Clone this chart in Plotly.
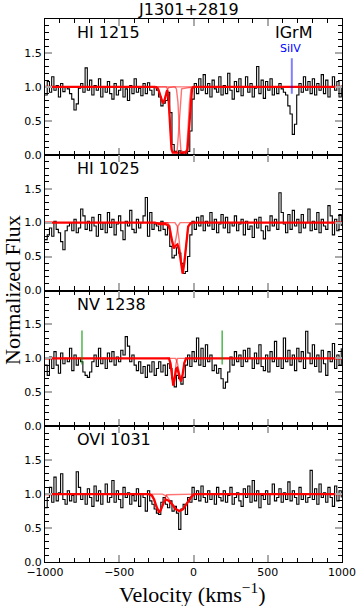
import numpy as np
import plotly.graph_objects as go
from plotly.subplots import make_subplots

# ---------------- data ----------------
VEL_START = -1000
VEL_STEP = 15

panel_labels = ["HI 1215", "HI 1025", "NV 1238", "OVI 1031"]

flux_hi1215 = [
    0.88, 1.08, 0.92, 1.15, 0.95, 1.02, 0.85, 1.05, 0.93, 1.00,
    0.97, 0.90, 0.82, 0.66, 0.75, 0.98, 1.05, 0.92, 1.28, 0.95,
    1.10, 0.88, 1.02, 0.95, 1.12, 0.85, 1.00, 0.92, 1.08, 0.90,
    0.82, 1.05, 0.88, 0.95, 1.10, 0.85, 0.97, 0.80, 1.02, 0.90,
    1.12, 0.92, 0.98, 0.87, 1.05, 0.90, 1.06, 0.95, 0.88, 1.00,
    0.95, 0.85, 0.72, 0.76, 0.80, 0.92, 0.62, 0.15, 0.05, 0.03,
    0.06, 0.02, 0.04, 0.01, 0.05, 0.35, 0.82, 1.05, 0.90, 1.12,
    0.95, 1.18, 0.90, 1.05, 0.85, 1.10, 0.97, 0.92, 1.15, 0.88,
    1.02, 0.90, 1.20, 0.95, 0.82, 1.08, 0.93, 1.12, 0.87, 1.00,
    1.15, 0.92, 1.05, 0.85, 0.98, 1.30, 0.90, 1.10, 0.83, 1.08,
    0.95, 1.12, 0.88, 1.00, 0.90, 1.05, 0.97, 0.92, 0.88, 0.72,
    0.60, 0.30, 0.45, 0.88, 1.05, 0.92, 1.15, 0.95, 1.08, 0.90,
    1.12, 0.88, 1.05, 0.95, 1.18, 0.90, 1.10, 0.85, 1.00, 1.15,
    0.95, 1.08, 0.85, 1.02,
]
flux_hi1025 = [
    0.75, 0.82, 0.92, 0.80, 1.02, 0.90, 0.85, 0.72, 0.60, 0.88,
    0.95, 1.00, 0.88, 1.05, 0.85, 0.92, 1.20, 1.10, 0.90, 1.02,
    0.88, 1.08, 0.95, 0.80, 1.12, 0.90, 1.00, 0.85, 1.15, 0.93,
    1.05, 0.82, 0.98, 1.10, 0.88, 0.75, 1.02, 0.95, 1.18, 0.90,
    0.85, 1.05, 0.92, 1.00, 1.10, 1.37, 0.80, 1.15, 0.90, 0.98,
    0.95, 0.88, 1.02, 0.90, 0.82, 0.95, 0.65, 0.48, 0.52, 0.63,
    0.55, 0.40, 0.25, 0.28, 0.50, 0.82, 1.02, 0.90, 1.08, 0.95,
    1.10, 0.88, 1.02, 0.95, 1.15, 0.90, 1.05, 0.85, 0.98, 1.12,
    0.92, 1.08, 0.85, 1.00, 0.95, 1.10, 0.88, 0.98, 1.05, 0.82,
    1.02, 0.90, 0.95, 0.78, 1.05, 0.92, 1.08, 0.88, 0.76, 0.95,
    0.88, 1.10, 0.95, 1.05, 0.90, 1.44, 1.15, 0.98, 0.85, 1.12,
    0.90, 1.18, 0.95, 1.05, 0.85, 1.12, 0.92, 1.00, 1.20, 0.88,
    1.02, 0.90, 1.15, 0.85, 1.05, 0.95, 0.90, 1.25, 1.10, 0.82,
    1.05, 0.88, 1.12, 0.95,
]
flux_nv1238 = [
    0.90, 0.75, 1.02, 0.85, 1.10, 0.90, 0.78, 1.08, 0.92, 1.00,
    0.95, 1.15, 0.82, 1.05, 0.90, 1.00, 0.95, 0.80, 0.75, 0.72,
    0.80, 0.95, 1.05, 0.88, 1.15, 0.92, 1.00, 0.85, 1.08, 0.95,
    1.10, 0.90, 1.02, 0.95, 1.12, 1.05, 1.32, 1.18, 0.95, 1.05,
    0.90, 0.82, 0.95, 0.78, 0.88, 0.72, 0.90, 0.80, 0.95, 0.75,
    0.85, 0.95, 0.80, 0.90, 0.75, 0.92, 0.85, 0.70, 0.58, 0.75,
    0.70, 0.62, 0.72, 0.90, 1.05, 0.88, 1.10, 0.95, 1.30, 0.90,
    1.15, 0.88, 1.20, 0.95, 1.05, 0.82, 0.90, 0.78, 0.85, 0.70,
    0.56, 0.65, 0.80, 1.02, 0.90, 1.10, 0.95, 1.05, 0.88, 1.12,
    0.95, 1.15, 1.00, 0.85, 1.08, 0.92, 1.20, 0.88, 0.82, 1.05,
    0.80, 1.10, 0.95, 1.25, 0.88, 1.00, 0.85, 1.30, 0.95, 1.12,
    0.90, 1.05, 0.82, 1.15, 0.95, 1.10, 0.85, 1.40, 1.08, 0.92,
    1.20, 0.88, 1.05, 0.80, 1.12, 0.92, 0.75, 1.10, 0.95, 1.22,
    0.85, 1.05, 0.90, 1.15,
]
flux_ovi1031 = [
    0.80, 0.95, 1.10, 0.88, 1.25, 0.90, 1.02, 1.30, 0.92, 0.85,
    1.05, 0.90, 0.98, 0.88, 1.33, 1.10, 0.92, 1.00, 0.85, 1.08,
    0.95, 0.82, 1.12, 0.90, 1.05, 0.85, 1.00, 1.15, 0.88, 0.95,
    1.20, 0.88, 1.05, 0.92, 0.80, 1.10, 0.95, 1.02, 0.85, 0.98,
    0.90, 1.08, 0.82, 1.00, 0.95, 0.75, 1.05, 0.90, 0.85, 0.78,
    0.72, 0.70, 0.88, 0.95, 0.85, 0.80, 0.90, 0.75, 0.82, 0.72,
    0.48, 0.78, 0.85, 0.70, 0.95, 0.88, 1.10, 0.92, 1.05, 0.90,
    1.12, 0.95, 0.88, 1.05, 0.92, 1.00, 0.85, 1.10, 0.95, 0.90,
    1.05, 0.88, 0.98, 1.10, 0.85, 0.95, 1.02, 0.90, 0.82, 1.08,
    0.95, 1.12, 0.88, 1.20, 0.90, 1.05, 0.80, 0.98, 0.92, 1.05,
    0.85, 1.00, 1.15, 0.90, 0.95, 1.08, 0.88, 1.02, 0.92, 1.18,
    0.90, 1.05, 0.95, 0.85, 1.10, 0.92, 1.00, 0.88, 0.95, 1.35,
    0.92, 1.08, 0.85, 1.15, 0.95, 1.02, 0.88, 1.10, 0.95, 0.82,
    1.12, 0.90, 1.05, 0.95,
]

# model fits: total profile and individual components (velocity, flux)
model_hi1215_v = [-1000, -260, -240, -228, -216, -206, -196, -186, -177, -168, -158, -148, -140, -100, -50, -40, -30, -20, -10, 0, 1000]
model_hi1215_f = [1, 1, 0.98, 0.9, 0.8, 0.76, 0.8, 0.9, 0.95, 0.82, 0.42, 0.08, 0.03, 0.03, 0.03, 0.08, 0.4, 0.78, 0.97, 1, 1]
comps_hi1215 = [
    ([-280, -245, -230, -218, -206, -194, -182, -167, -130, 0], [1, 0.99, 0.94, 0.82, 0.76, 0.82, 0.94, 0.99, 1, 1]),
    ([-280, -185, -175, -165, -155, -145, -127, -110, -100, -90, -80, 0], [1, 1, 0.97, 0.75, 0.35, 0.06, 0.03, 0.06, 0.35, 0.75, 0.97, 1]),
    ([-280, -125, -115, -105, -95, -85, -66, -47, -37, -27, -17, -7, 0], [1, 1, 0.97, 0.78, 0.38, 0.07, 0.03, 0.07, 0.38, 0.78, 0.97, 1, 1]),
]

model_hi1025_v = [-1000, -260, -230, -190, -170, -160, -147, -132, -120, -108, -97, -85, -73, -61, -49, -36, -20, -10, 1000]
model_hi1025_f = [1, 1, 0.98, 0.98, 0.96, 0.9, 0.75, 0.62, 0.66, 0.68, 0.6, 0.42, 0.25, 0.42, 0.72, 0.94, 0.99, 1, 1]
comps_hi1025 = [
    ([-280, -175, -160, -147, -132, -117, -104, -90, 0], [1, 1, 0.95, 0.78, 0.62, 0.78, 0.95, 1, 1]),
    ([-280, -125, -110, -97, -85, -73, -61, -49, -36, -20, 0], [1, 1, 0.95, 0.75, 0.45, 0.25, 0.45, 0.75, 0.95, 1, 1]),
]

model_nv1238_v = [-1000, -165, -155, -145, -136, -127, -117, -110, -100, -85, -74, -62, -50, 1000]
model_nv1238_f = [1, 1, 0.93, 0.72, 0.6, 0.7, 0.85, 0.86, 0.77, 0.66, 0.75, 0.93, 1, 1]
comps_nv1238 = [
    ([-185, -165, -155, -145, -136, -127, -117, -107, -45], [1, 1, 0.93, 0.72, 0.6, 0.72, 0.93, 1, 1]),
    ([-185, -120, -108, -96, -85, -74, -62, -50, -45], [1, 1, 0.93, 0.75, 0.66, 0.75, 0.93, 1, 1]),
]

model_ovi1031_v = [-1000, -300, -280, -265, -250, -240, -231, -222, -212, -200, -185, -165, -140, -120, -95, -70, -40, -15, 5, 1000]
model_ovi1031_f = [1, 1, 0.98, 0.92, 0.82, 0.76, 0.73, 0.76, 0.82, 0.88, 0.92, 0.9, 0.84, 0.78, 0.75, 0.78, 0.88, 0.96, 1, 1]
comps_ovi1031 = [
    ([-310, -290, -270, -250, -231, -212, -195, -180, 10], [1, 0.99, 0.93, 0.8, 0.73, 0.8, 0.93, 0.99, 1]),
    ([-310, -210, -180, -150, -120, -95, -70, -40, -10, 10], [1, 1, 0.97, 0.88, 0.78, 0.75, 0.78, 0.88, 0.97, 1]),
]

# line markers
siiv_v = [662, 662]
siiv_f = [0.9, 1.42]
nv_marks_v = [-751, 193]
nv_marks_f = [0.91, 1.41]

fluxes = [flux_hi1215, flux_hi1025, flux_nv1238, flux_ovi1031]
models = [(model_hi1215_v, model_hi1215_f), (model_hi1025_v, model_hi1025_f),
          (model_nv1238_v, model_nv1238_f), (model_ovi1031_v, model_ovi1031_f)]
comps = [comps_hi1215, comps_hi1025, comps_nv1238, comps_ovi1031]

x_ticks = [-1000, -500, 0, 500, 1000]
y_ticks = [0.0, 0.5, 1.0, 1.5]
y_ticktext = ["0.0", "0.5", "1.0", "1.5"]

# ---------------- figure ----------------
fig = make_subplots(rows=4, cols=1, shared_xaxes=True, vertical_spacing=0)

for i in range(4):
    r = i + 1
    fl = fluxes[i]
    vel = VEL_START + VEL_STEP * np.arange(len(fl))
    fig.add_trace(go.Scatter(x=vel, y=fl, mode="lines", line=dict(color="black", width=1.1, shape="hv"),
                             showlegend=False, hoverinfo="skip"), row=r, col=1)
    for cv, cf in comps[i]:
        fig.add_trace(go.Scatter(x=cv, y=cf, mode="lines", line=dict(color="rgba(255,0,0,0.55)", width=1.4),
                                 showlegend=False, hoverinfo="skip"), row=r, col=1)
    mv, mf = models[i]
    fig.add_trace(go.Scatter(x=mv, y=mf, mode="lines", line=dict(color="#ff0000", width=2.3),
                             showlegend=False, hoverinfo="skip"), row=r, col=1)

# SiIV marker (panel 1)
fig.add_trace(go.Scatter(x=siiv_v, y=siiv_f, mode="lines", line=dict(color="rgba(0,0,255,0.5)", width=2),
                         showlegend=False, hoverinfo="skip"), row=1, col=1)
# NV doublet markers (panel 3)
for v in nv_marks_v:
    fig.add_trace(go.Scatter(x=[v, v], y=nv_marks_f, mode="lines", line=dict(color="rgba(0,150,0,0.8)", width=1.3),
                             showlegend=False, hoverinfo="skip"), row=3, col=1)

for i in range(4):
    r = i + 1
    fig.update_xaxes(range=[-1000, 1000], tickvals=x_ticks, ticks="inside", ticklen=7, tickwidth=1.5,
                     tickcolor="#aaaaaa", showline=True, linecolor="black", linewidth=1.3, mirror="ticks",
                     showgrid=False, zeroline=False, automargin=False,
                     minor=dict(dtick=100, tick0=0, ticks="inside", ticklen=4, tickcolor="black", tickwidth=1),
                     showticklabels=(r == 4), tickfont=dict(family="DejaVu Sans", size=11, color="black"),
                     row=r, col=1)
    fig.update_yaxes(range=[0, 2.0], tickvals=y_ticks, ticktext=y_ticktext, ticks="inside", ticklen=7, tickwidth=1.5,
                     tickcolor="#aaaaaa", showline=True, linecolor="black", linewidth=1.3, mirror="ticks",
                     showgrid=False, zeroline=False, automargin=False,
                     minor=dict(dtick=0.1, tick0=0, ticks="inside", ticklen=4, tickcolor="black", tickwidth=1),
                     tickfont=dict(family="DejaVu Sans", size=11, color="black"),
                     row=r, col=1)

annotations = []
for i, lab in enumerate(panel_labels):
    suf = "" if i == 0 else str(i + 1)
    annotations.append(dict(x=-800, y=1.8, xref="x" + suf, yref="y" + suf, text=lab, showarrow=False,
                            xanchor="left", yanchor="middle", font=dict(family="DejaVu Sans", size=16, color="black")))
annotations.append(dict(x=676, y=1.8, xref="x", yref="y", text="IGrM", showarrow=False,
                        xanchor="center", yanchor="middle", font=dict(family="DejaVu Sans", size=16, color="black")))
annotations.append(dict(x=655, y=1.57, xref="x", yref="y", text="SiIV", showarrow=False,
                        xanchor="center", yanchor="middle", font=dict(family="DejaVu Sans", size=11, color="#0000ff")))
annotations.append(dict(x=0.4815, y=1.0175, xref="paper", yref="paper", text="J1301+2819", showarrow=False,
                        xanchor="center", yanchor="middle", font=dict(family="DejaVu Sans", size=16, color="black")))
annotations.append(dict(x=-0.108, y=0.501, xref="paper", yref="paper", text="Normalized Flux", showarrow=False,
                        textangle=-90, xanchor="center", yanchor="middle",
                        font=dict(family="Liberation Serif", size=22, color="black")))
annotations.append(dict(x=0.4966, y=-0.057, xref="paper", yref="paper", text="Velocity (kms<sup>\u22121</sup>)",
                        showarrow=False, xanchor="center", yanchor="middle",
                        font=dict(family="Liberation Serif", size=22, color="black")))

fig.update_layout(width=357, height=606, margin=dict(l=45, r=15, t=19, b=44, autoexpand=False),
                  paper_bgcolor="white", plot_bgcolor="white", annotations=annotations, showlegend=False)

fig.write_html("out.html", config={"displayModeBar": False},
               post_script="document.body.style.margin='0';document.body.style.overflow='hidden';")
